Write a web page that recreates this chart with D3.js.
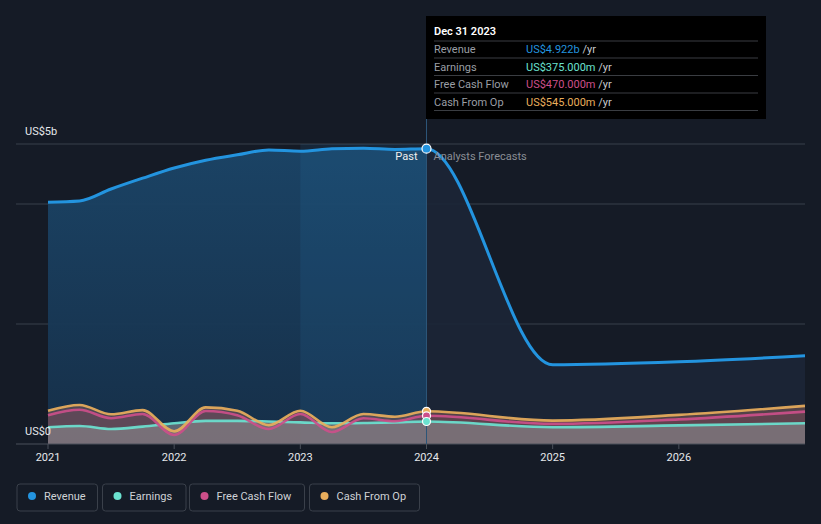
<!DOCTYPE html>
<html>
<head>
<meta charset="utf-8">
<script src="https://cdn.jsdelivr.net/npm/d3@7"></script>
<style>
  html, body { margin: 0; padding: 0; background: #151b26; }
  svg { display: block; font-family: Roboto, "Noto Sans", sans-serif; }
</style>
</head>
<body>
<svg id="chart" width="821" height="524"></svg>
<script>
// ---- data ----
const pastDates = [2021.0, 2021.25, 2021.5, 2021.75, 2022.0, 2022.25, 2022.5, 2022.75, 2023.0, 2023.25, 2023.5, 2023.75, 2024.0];
const revenuePast = [4.03, 4.05, 4.25, 4.43, 4.60, 4.73, 4.82, 4.90, 4.88, 4.92, 4.93, 4.91, 4.922];
const earningsPast = [0.28, 0.30, 0.25, 0.29, 0.345, 0.385, 0.385, 0.375, 0.36, 0.345, 0.35, 0.36, 0.375];
const fcfPast = [0.48, 0.57, 0.43, 0.50, 0.15, 0.55, 0.48, 0.25, 0.50, 0.20, 0.43, 0.38, 0.47];
const cfoPast = [0.555, 0.65, 0.495, 0.565, 0.21, 0.61, 0.555, 0.315, 0.555, 0.28, 0.50, 0.455, 0.545];

const fcDates = [2024.0, 2025.0, 2026.0, 2027.0];
const revenueFc = [4.922, 1.32, 1.37, 1.47];
const earningsFc = [0.375, 0.28, 0.31, 0.345];
const fcfFc = [0.47, 0.335, 0.41, 0.54];
const cfoFc = [0.545, 0.39, 0.485, 0.635];

const xTicks = [2021, 2022, 2023, 2024, 2025, 2026];
const gridValues = [2, 4, 5];
const yLabels = [{v: 5, t: "US$5b"}, {v: 0, t: "US$0"}];

const seriesNames = ["Revenue", "Earnings", "Free Cash Flow", "Cash From Op"];
const seriesColors = ["#2394df", "#6be2d0", "#cc4f8a", "#e9ae5c"];
const tipDate = "Dec 31 2023";
const tipValues = ["US$4.922b", "US$375.000m", "US$470.000m", "US$545.000m"];

// ---- setup ----
const svg = d3.select("#chart");
const x = d3.scaleLinear().domain([2021, 2027]).range([48, 805]);
const y = d3.scaleLinear().domain([0, 5]).range([444, 144]);
const nowX = x(2024);

const defs = svg.append("defs");
const g1 = defs.append("linearGradient").attr("id", "revPast").attr("x1", 0).attr("y1", 0).attr("x2", 0).attr("y2", 1);
g1.append("stop").attr("offset", "0%").attr("stop-color", "#1b4568").attr("stop-opacity", 0.95);
g1.append("stop").attr("offset", "100%").attr("stop-color", "#16304a").attr("stop-opacity", 0.95);
defs.append("clipPath").attr("id", "clipPast").append("rect")
  .attr("x", x(2021)).attr("y", 0).attr("width", nowX - x(2021)).attr("height", 524);
defs.append("clipPath").attr("id", "clipFc").append("rect")
  .attr("x", nowX).attr("y", 0).attr("width", x(2027) - nowX).attr("height", 524);

const zip = (d, v) => d.map((t, i) => ({t, v: v[i]}));
const curve = d3.curveMonotoneX;
const line = d3.line().x(d => x(d.t)).y(d => y(d.v)).curve(curve);
const area = d3.area().x(d => x(d.t)).y0(y(0)).y1(d => y(d.v)).curve(curve);

const allDates = pastDates.concat(fcDates.slice(1));
const revAll = zip(allDates, revenuePast.concat(revenueFc.slice(1)));
const cfoAll = zip(allDates, cfoPast.concat(cfoFc.slice(1)));
const fcfAll = zip(allDates, fcfPast.concat(fcfFc.slice(1)));
const earnAll = zip(allDates, earningsPast.concat(earningsFc.slice(1)));

// gridlines
svg.append("g").selectAll("line").data(gridValues).join("line")
  .attr("x1", 16).attr("x2", 805).attr("y1", d => y(d)).attr("y2", d => y(d))
  .attr("stroke", "#39404b").attr("stroke-width", 1);

// revenue areas
svg.append("path").datum(revAll).attr("d", area).attr("clip-path", "url(#clipFc)").attr("fill", "#1c2637").attr("opacity", 0.9);
svg.append("path").datum(revAll).attr("d", area).attr("clip-path", "url(#clipPast)").attr("fill", "url(#revPast)");
// last-year highlight band
svg.append("rect").attr("x", x(2023)).attr("y", y(5)).attr("width", nowX - x(2023)).attr("height", y(0) - y(5))
  .attr("fill", "#2a84c8").attr("opacity", 0.12);

// lower series areas
svg.append("path").datum(cfoAll).attr("d", area).attr("fill", "#8a5f5a").attr("opacity", 0.5);
svg.append("path").datum(fcfAll).attr("d", area).attr("fill", "#b04a78").attr("opacity", 0.15);
svg.append("path").datum(earnAll).attr("d", area).attr("fill", "#85868b").attr("opacity", 0.65);

// axis baseline
svg.append("line").attr("x1", 16).attr("x2", 805).attr("y1", y(0)).attr("y2", y(0)).attr("stroke", "#4a505a").attr("stroke-width", 1);

// now vertical line
svg.append("line").attr("x1", nowX).attr("x2", nowX).attr("y1", 16).attr("y2", y(0))
  .attr("stroke", "#2c5578").attr("stroke-width", 1);

// lines
[[earnAll, seriesColors[1]], [fcfAll, seriesColors[2]], [cfoAll, seriesColors[3]]].forEach(([d, c]) => {
  svg.append("path").datum(d).attr("d", line).attr("fill", "none").attr("stroke", c).attr("stroke-width", 2.6).attr("opacity", 0.92);
});
svg.append("path").datum(revAll).attr("d", line).attr("fill", "none").attr("stroke", seriesColors[0]).attr("stroke-width", 3);

// dots at now
const nowVals = [revenuePast[12], earningsPast[12], fcfPast[12], cfoPast[12]];
[3, 2, 1, 0].forEach(i => {
  svg.append("circle").attr("cx", nowX).attr("cy", y(nowVals[i])).attr("r", i === 0 ? 4.5 : 4)
    .attr("fill", seriesColors[i]).attr("stroke", "#ffffff").attr("stroke-width", 1.2);
});

// x axis ticks & labels
const xa = svg.append("g");
xa.selectAll("line").data(xTicks).join("line")
  .attr("x1", d => x(d)).attr("x2", d => x(d)).attr("y1", y(0)).attr("y2", y(0) + 5)
  .attr("stroke", "#4a505a");
xa.selectAll("text").data(xTicks).join("text")
  .attr("x", d => x(d)).attr("y", 461).attr("text-anchor", "middle")
  .attr("fill", "#e6e8eb").attr("font-size", 11).text(d => d);

// y labels
svg.append("g").selectAll("text").data(yLabels).join("text")
  .attr("x", 25).attr("y", d => y(d.v) - 9).attr("fill", "#e6e8eb").attr("font-size", 11).text(d => d.t);

// past / forecast labels
svg.append("text").attr("x", nowX - 9).attr("y", 160).attr("text-anchor", "end")
  .attr("fill", "#f0f0f0").attr("font-size", 11).text("Past");
svg.append("text").attr("x", nowX + 7).attr("y", 160)
  .attr("fill", "#8a8e95").attr("font-size", 11).text("Analysts Forecasts");

// tooltip
const tip = svg.append("g");
tip.append("rect").attr("x", 426).attr("y", 16).attr("width", 340).attr("height", 103).attr("fill", "#000000");
tip.append("text").attr("x", 434).attr("y", 35).attr("fill", "#ffffff").attr("font-size", 11).attr("font-weight", 600).text(tipDate);
const sepY = [41, 58, 75.5, 93, 110.5];
tip.selectAll("line").data(sepY).join("line")
  .attr("x1", 434).attr("x2", 758).attr("y1", d => d).attr("y2", d => d).attr("stroke", "#3a3d42");
seriesNames.forEach((n, i) => {
  const ty = 53 + i * 17.5;
  tip.append("text").attr("x", 434).attr("y", ty).attr("fill", "#9a9ea5").attr("font-size", 11).text(n);
  const t = tip.append("text").attr("x", 526).attr("y", ty).attr("font-size", 11);
  t.append("tspan").attr("fill", seriesColors[i]).text(tipValues[i]);
  t.append("tspan").attr("fill", "#c8cace").text(" /yr");
});

// legend
const legendBoxes = [[17, 80.5], [102.5, 83.5], [189.5, 115], [309.5, 110]];
const lg = svg.append("g");
seriesNames.forEach((n, i) => {
  const [bx, bw] = legendBoxes[i];
  lg.append("rect").attr("x", bx).attr("y", 484).attr("width", bw).attr("height", 27).attr("rx", 3)
    .attr("fill", "none").attr("stroke", "#3a404a");
  lg.append("circle").attr("cx", bx + 15).attr("cy", 496).attr("r", 4).attr("fill", seriesColors[i]);
  lg.append("text").attr("x", bx + 27).attr("y", 500).attr("fill", "#cfd2d6").attr("font-size", 11).text(n);
});
</script>
</body>
</html>
